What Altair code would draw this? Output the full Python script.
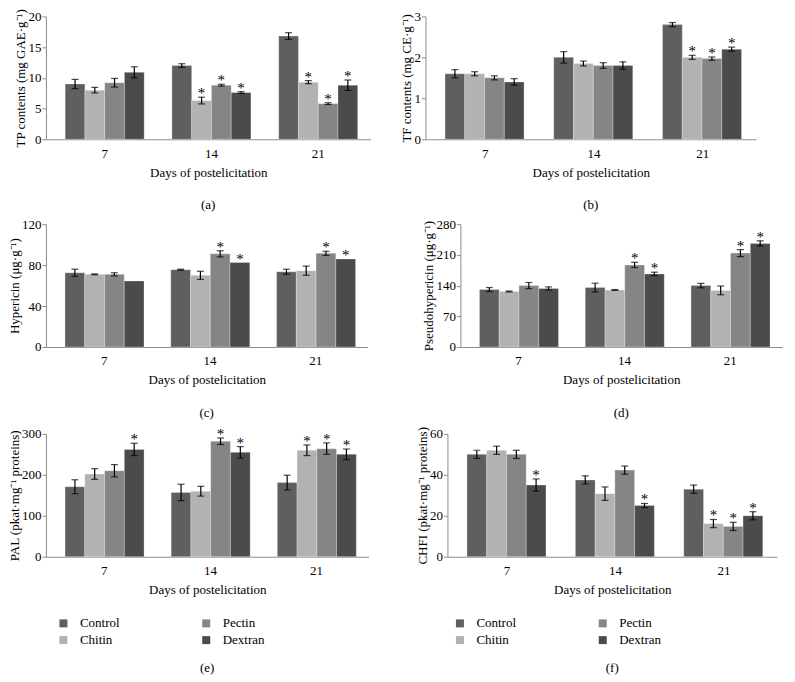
import altair as alt
import pandas as pd

days = ["7", "14", "21"]
treatments = ["Control", "Chitin", "Pectin", "Dextran"]
colors = ["#5f5f5f", "#b2b2b2", "#858585", "#4b4b4b"]

# values ordered day-major: (7: Control, Chitin, Pectin, Dextran), (14: ...), (21: ...)
tp_mean = [9.0, 8.0, 9.2, 10.9, 12.0, 6.3, 8.8, 7.6, 16.8, 9.3, 5.8, 8.8]
tp_err = [0.75, 0.45, 0.7, 0.9, 0.3, 0.55, 0.15, 0.15, 0.55, 0.25, 0.15, 0.85]
tp_sig = [0, 0, 0, 0, 0, 1, 1, 1, 0, 1, 1, 1]

tf_mean = [1.6, 1.6, 1.5, 1.4, 2.0, 1.85, 1.8, 1.8, 2.8, 2.0, 1.97, 2.2]
tf_err = [0.1, 0.05, 0.05, 0.08, 0.14, 0.06, 0.07, 0.09, 0.05, 0.05, 0.04, 0.05]
tf_sig = [0, 0, 0, 0, 0, 0, 0, 0, 0, 1, 1, 1]

hyp_mean = [72.5, 71, 71, 64.5, 75.5, 70, 91, 82.5, 73.5, 74.5, 91.5, 86]
hyp_err = [3.5, 0.4, 1.5, 0, 0.5, 4, 3, 0, 2.5, 4.5, 2, 0]
hyp_sig = [0, 0, 0, 0, 0, 0, 1, 1, 0, 0, 1, 1]

ps_mean = [131, 126.5, 140, 133.5, 135.5, 130, 187, 166.5, 140, 129, 214, 236]
ps_err = [4.5, 1, 7, 3.5, 10, 1, 6, 4, 5, 10, 8, 6]
ps_sig = [0, 0, 0, 0, 0, 0, 1, 1, 0, 0, 1, 1]

pal_mean = [171, 202, 210, 262, 157, 160, 282, 255, 181, 260, 264, 250]
pal_err = [17, 13, 15, 15, 20, 12, 8, 14, 18, 13, 14, 13]
pal_sig = [0, 0, 0, 1, 0, 0, 1, 1, 0, 1, 1, 1]

chfi_mean = [50, 52, 50, 35, 37.5, 30.8, 42.3, 25, 33, 16.2, 14.8, 20]
chfi_err = [2, 2, 2, 3, 2, 3.3, 2, 1, 2, 2, 2, 2]
chfi_sig = [0, 0, 0, 1, 0, 0, 0, 1, 0, 1, 1, 1]

y_titles = [
    "TP contents (mg GAE·g⁻¹)",
    "TF contents (mg CE·g⁻¹)",
    "Hypericin (μg·g⁻¹)",
    "Pseudohypericin (μg·g⁻¹)",
    "PAL (pkat·mg⁻¹ proteins)",
    "CHFI (pkat·mg⁻¹ proteins)",
]
y_max = [20, 3, 120, 280, 300, 60]
y_step = [5, 1, 40, 70, 100, 20]
captions = ["(a)", "(b)", "(c)", "(d)", "(e)", "(f)"]
x_title = "Days of postelicitation"

FONT = "Liberation Serif"
H = 123


def panel(mean, err, sig, idx, width, legend_pos=None, cap_offset=20):
    day_col = [d for d in days for _ in treatments]
    treat_col = [t for _ in days for t in treatments]
    df = pd.DataFrame({
        "day": day_col,
        "treat": treat_col,
        "mean": mean,
        "err": err,
        "lo": [m - e for m, e in zip(mean, err)],
        "hi": [m + e for m, e in zip(mean, err)],
        "star": ["*" if s else "" for s in sig],
    })
    yscale = alt.Scale(domain=[0, y_max[idx]], nice=False, zero=True)
    yaxis = alt.Axis(values=list(range(0, y_max[idx] + 1, y_step[idx])), title=y_titles[idx])
    x = alt.X("day:N", sort=days, title=x_title,
              scale=alt.Scale(paddingInner=0.26, paddingOuter=0.15, align=0.6))
    xo = alt.XOffset("treat:N", sort=treatments, scale=alt.Scale(paddingInner=0, paddingOuter=0))
    base = alt.Chart(df).encode(x=x, xOffset=xo)

    if legend_pos is None:
        leg = None
    else:
        leg = alt.Legend(orient="none", legendX=legend_pos[0], legendY=legend_pos[1],
                         columns=2, direction="vertical", title=None, symbolType="square",
                         symbolSize=64, symbolStrokeWidth=0, labelFont=FONT, labelFontSize=13,
                         labelColor="black", labelOffset=10, columnPadding=80,
                         rowPadding=3, padding=0, values=treatments)
    bars = base.mark_bar(stroke="white", strokeWidth=0.4, strokeOpacity=0.7).encode(
        y=alt.Y("mean:Q", scale=yscale, axis=yaxis),
        color=alt.Color("treat:N", sort=treatments,
                        scale=alt.Scale(domain=treatments, range=colors), legend=leg),
    )
    eb = base.transform_filter("datum.err > 0")
    rule = eb.mark_rule(color="black", strokeWidth=1.2).encode(
        y=alt.Y("lo:Q", scale=yscale, axis=yaxis), y2="hi:Q")
    cap_lo = eb.mark_tick(color="black", size=7, thickness=1.2).encode(
        y=alt.Y("lo:Q", scale=yscale, axis=yaxis))
    cap_hi = eb.mark_tick(color="black", size=7, thickness=1.2).encode(
        y=alt.Y("hi:Q", scale=yscale, axis=yaxis))
    stars = base.mark_text(font=FONT, fontSize=15, baseline="alphabetic", dy=1, color="black").encode(
        y=alt.Y("hi:Q", scale=yscale, axis=yaxis), text="star:N")
    return alt.layer(bars, rule, cap_lo, cap_hi, stars).properties(
        width=width, height=H,
        title=alt.TitleParams(captions[idx], orient="bottom", anchor="middle", font=FONT,
                              fontSize=13, fontWeight="normal", color="black", offset=cap_offset),
    )


a = panel(tp_mean, tp_err, tp_sig, 0, 325)
b = panel(tf_mean, tf_err, tf_sig, 1, 331)
c = panel(hyp_mean, hyp_err, hyp_sig, 2, 322)
d = panel(ps_mean, ps_err, ps_sig, 3, 322)
e = panel(pal_mean, pal_err, pal_sig, 4, 323, legend_pos=(11, 183), cap_offset=14)
f = panel(chfi_mean, chfi_err, chfi_sig, 5, 330, legend_pos=(6, 183), cap_offset=14)


def row(l, r, sp):
    return alt.hconcat(l, r, spacing=sp).resolve_scale(color="independent").resolve_legend(color="independent")


chart = alt.vconcat(row(a, b, 30), row(c, d, 55), row(e, f, 47), spacing=6).resolve_scale(
    color="independent").resolve_legend(color="independent").properties(
    padding={"left": 0, "top": 0, "right": 5, "bottom": 5}, background="white"
).configure_view(stroke=None).configure_axis(
    labelFont=FONT, titleFont=FONT, labelFontSize=13, titleFontSize=13,
    labelColor="black", titleColor="black", titleFontWeight="normal",
    domainColor="#8c8c8c", domainWidth=1, tickColor="#8c8c8c", grid=False,
).configure_axisX(
    ticks=False, labelAngle=0, labelPadding=8, titlePadding=6, tickSize=0
).configure_axisY(
    tickSize=4, labelPadding=1, titlePadding=0
)

chart.save("out.html", embed_options={"renderer": "svg", "actions": False})
